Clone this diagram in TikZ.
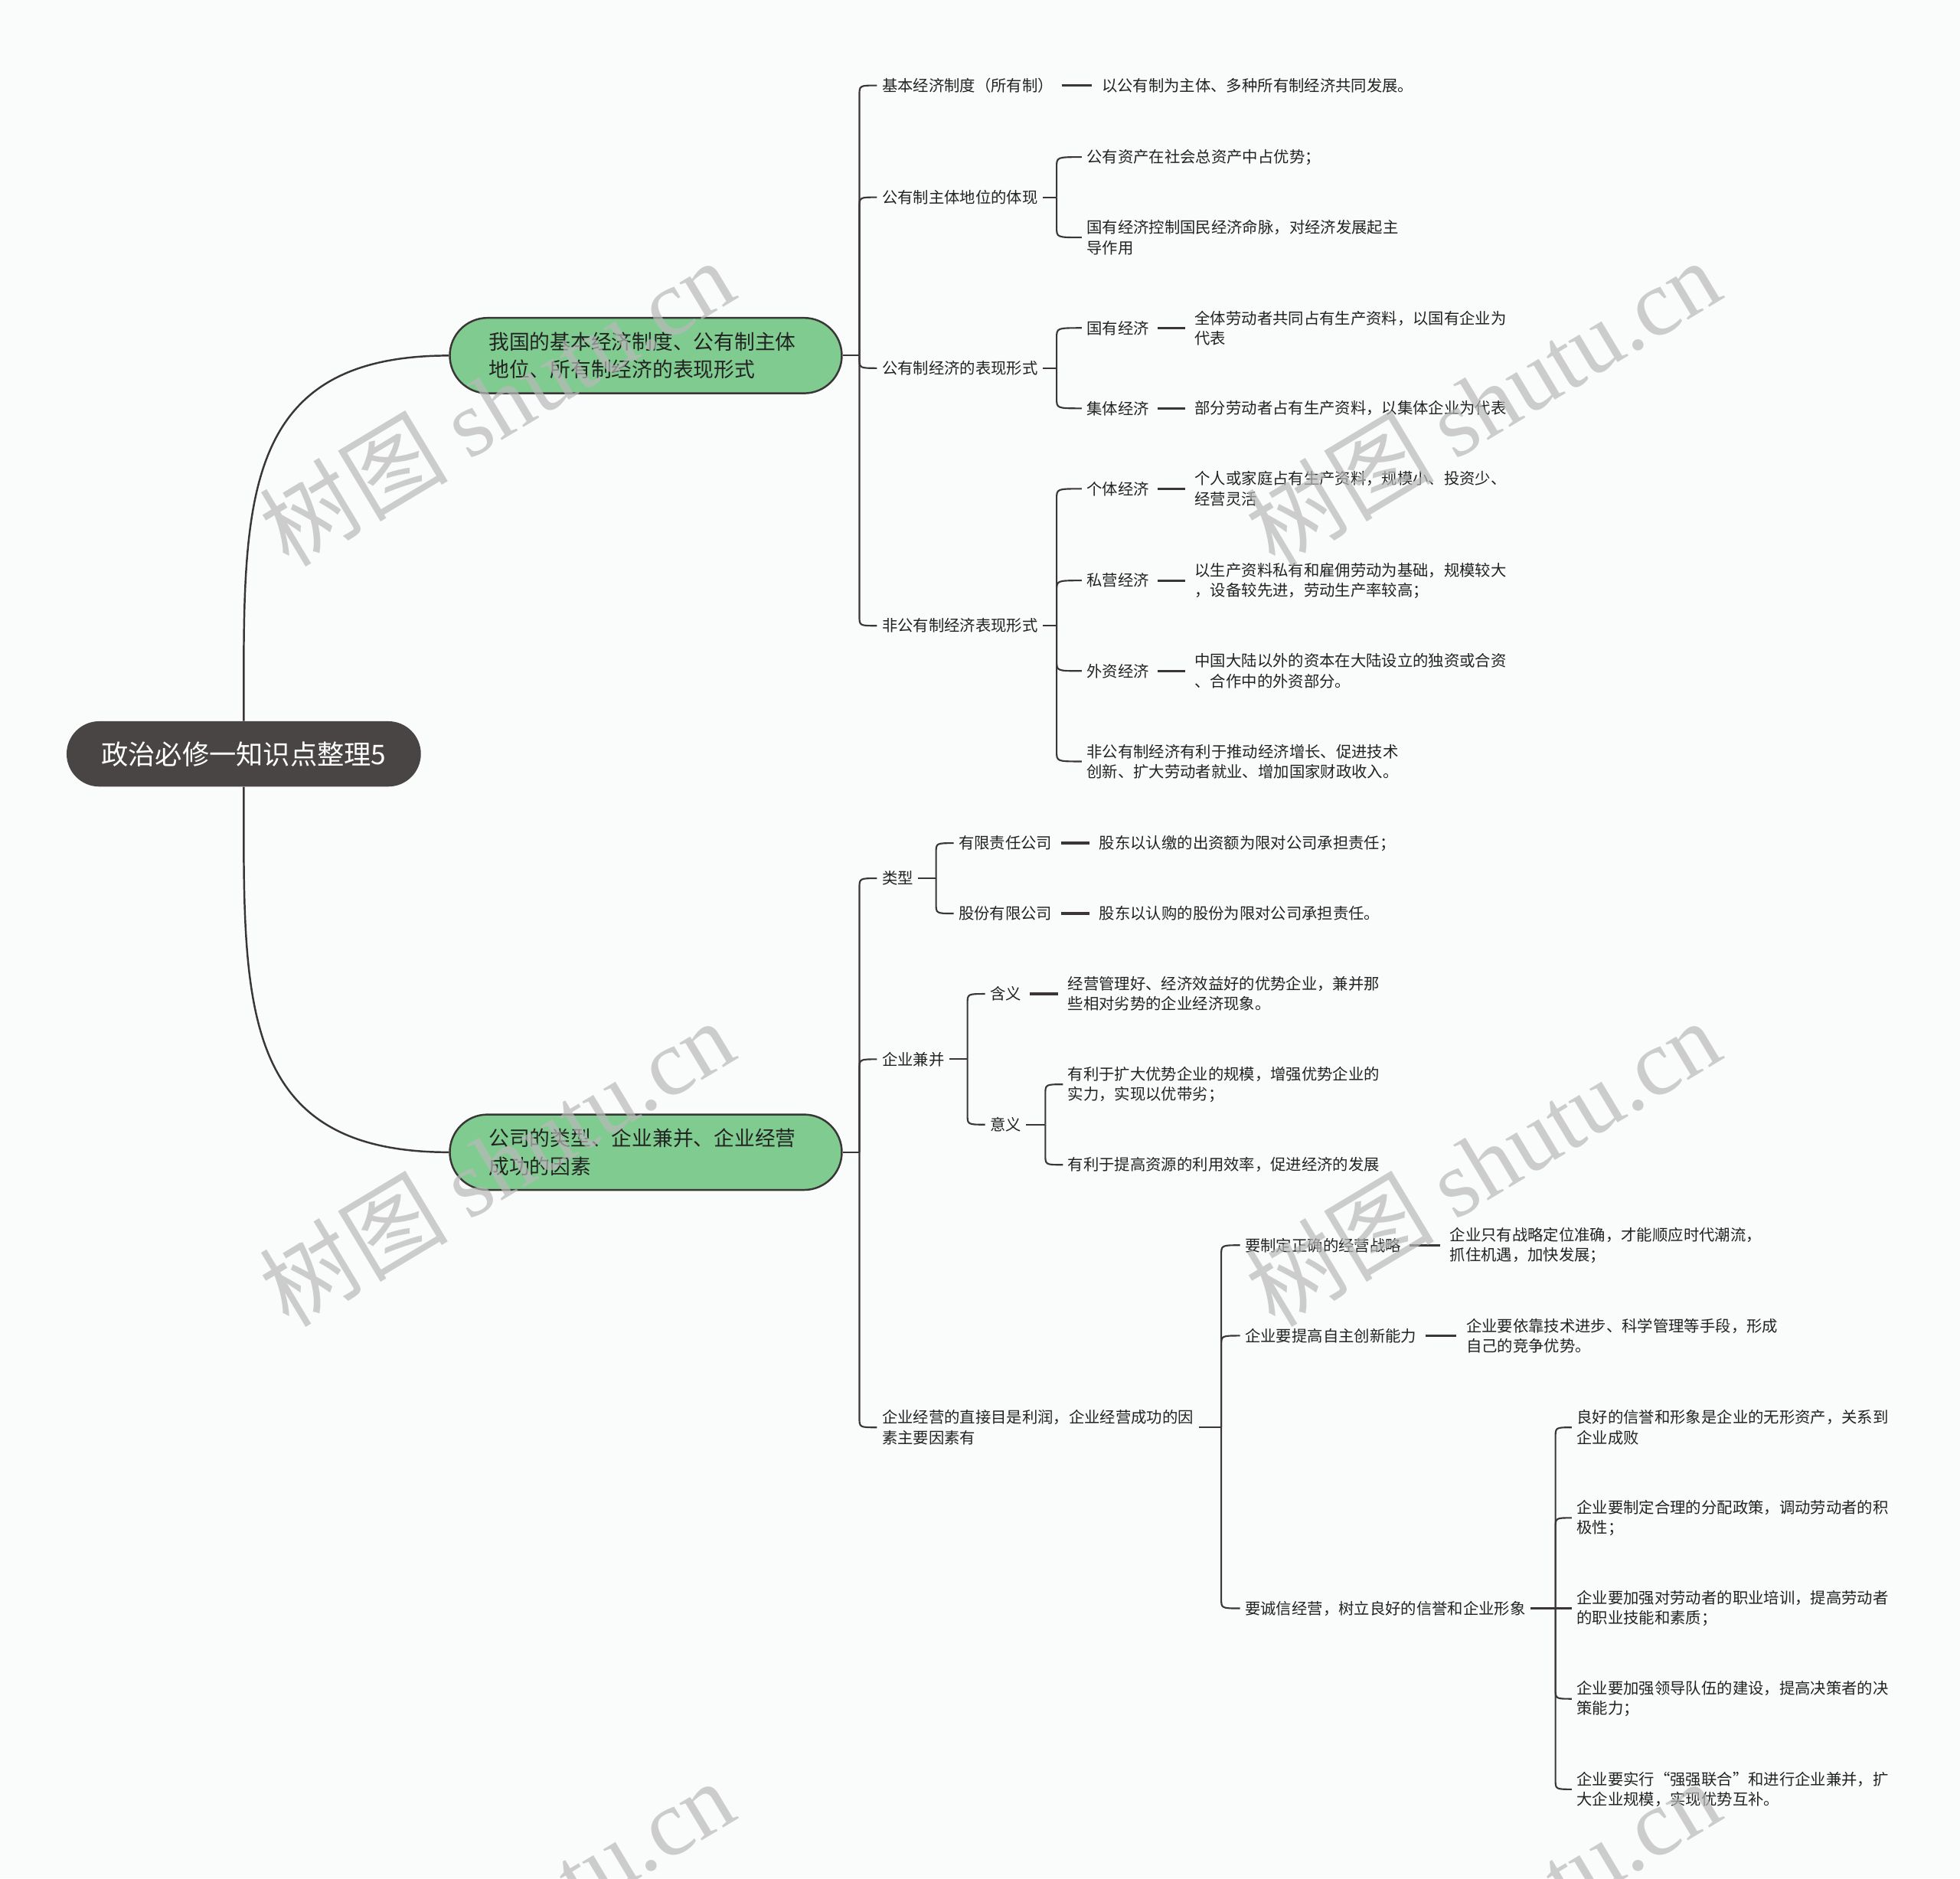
\documentclass[tikz,border=0pt]{standalone}
\usepackage{fontspec}
\setmainfont{Noto Sans CJK SC}
\newfontfamily\wmfont{Liberation Serif}
\usetikzlibrary{calc}
\definecolor{bg}{RGB}{250,252,252}
\definecolor{ink}{RGB}{58,54,54}
\definecolor{tc}{RGB}{34,34,34}
\definecolor{leaf}{RGB}{128,204,144}
\definecolor{rootc}{RGB}{73,69,69}
\definecolor{wmc}{RGB}{185,185,185}

\begin{document}
\begin{tikzpicture}[x=1pt, y=-1pt,
  txt/.style={font=\fontsize{12.4}{16}\selectfont, align=left, inner sep=0pt, outer xsep=4pt, anchor=west, text=tc},
  topic/.style={draw=ink, line width=1.5pt, fill=leaf, rounded corners=30pt, text width=250pt, inner xsep=31pt, minimum height=60pt, font=\fontsize{16.3}{22}\selectfont, align=left, text=tc},
  br/.style={draw=ink, line width=1.3pt, to path={let \p1=(\tikztostart), \p2=(\tikztotarget), \n1={(\y2<\y1)*16-8} in -- (\x1,{\y2+\n1}) .. controls (\x1,\y2) .. (\p2)}},
  lead/.style={draw=ink, line width=2pt, shorten <=3pt, shorten >=4pt},
  wm/.style={rotate=31, text=wmc, opacity=0.7, font=\fontsize{75}{75}\selectfont}]
\useasboundingbox[fill=bg] (0,0) rectangle (1560,1495);

\node[fill=rootc, rounded corners=26pt, minimum width=282pt, minimum height=52pt, text=white, font=\fontsize{21.5}{24}\selectfont] (ttl) at (194,600) {政治必修一知识点整理5};
\node[topic] (m1) at (514,283) {我国的基本经济制度、公有制主体\\地位、所有制经济的表现形式};
\node[topic] (m2) at (514,917) {公司的类型、企业兼并、企业经营\\成功的因素};
\draw[ink, line width=1.5pt] (ttl.north) to[out=90, in=180, looseness=1.3] (m1.west);
\draw[ink, line width=1.5pt] (ttl.south) to[out=-90, in=180, looseness=1.3] (m2.west);

% first topic
\node[txt] (sys) at (698,68) {基本经济制度（所有制）};
\node[txt] (sysd) at (873,68) {以公有制为主体、多种所有制经济共同发展。};
\node[txt] (dom) at (698,157) {公有制主体地位的体现};
\node[txt] (dom1) at (861,125) {公有资产在社会总资产中占优势；};
\node[txt] (dom2) at (861,189) {国有经济控制国民经济命脉，对经济发展起主\\导作用};
\node[txt] (pubf) at (698,293) {公有制经济的表现形式};
\node[txt] (state) at (861,261) {国有经济};
\node[txt] (stated) at (947,261) {全体劳动者共同占有生产资料，以国有企业为\\代表};
\node[txt] (coll) at (861,325) {集体经济};
\node[txt] (colld) at (947,325) {部分劳动者占有生产资料，以集体企业为代表};
\node[txt] (npub) at (698,498) {非公有制经济表现形式};
\node[txt] (indiv) at (861,389) {个体经济};
\node[txt] (indivd) at (947,389) {个人或家庭占有生产资料，规模小、投资少、\\经营灵活};
\node[txt] (priv) at (861,462) {私营经济};
\node[txt] (privd) at (947,462) {以生产资料私有和雇佣劳动为基础，规模较大\\，设备较先进，劳动生产率较高；};
\node[txt] (forn) at (861,534) {外资经济};
\node[txt] (fornd) at (947,534) {中国大陆以外的资本在大陆设立的独资或合资\\、合作中的外资部分。};
\node[txt] (npubr) at (861,606) {非公有制经济有利于推动经济增长、促进技术\\创新、扩大劳动者就业、增加国家财政收入。};

\coordinate (jm1) at (684,283);
\coordinate (jdom) at (841,157);
\coordinate (jpubf) at (841,293);
\coordinate (jnpub) at (841,498);
\draw[br] (m1) -- (jm1);
\path[br] (jm1) edge (sys.west) edge (dom.west) edge (pubf.west) edge (npub.west);
\draw[br] (dom) -- (jdom);
\path[br] (jdom) edge (dom1.west) edge (dom2.west);
\draw[br] (pubf) -- (jpubf);
\path[br] (jpubf) edge (state.west) edge (coll.west);
\draw[br] (npub) -- (jnpub);
\path[br] (jnpub) edge (indiv.west) edge (priv.west) edge (forn.west) edge (npubr.west);
\path[lead] (sys) edge (sysd) (state) edge (stated) (coll) edge (colld)
  (indiv) edge (indivd) (priv) edge (privd) (forn) edge (fornd);

% second topic
\node[txt] (kind) at (698,699) {类型};
\node[txt] (ltd) at (759,671) {有限责任公司};
\node[txt] (ltdd) at (871,671) {股东以认缴的出资额为限对公司承担责任；};
\node[txt] (jsc) at (759,727) {股份有限公司};
\node[txt] (jscd) at (871,727) {股东以认购的股份为限对公司承担责任。};
\node[txt] (merge) at (698,843) {企业兼并};
\node[txt] (mean) at (784,791) {含义};
\node[txt] (meand) at (846,791) {经营管理好、经济效益好的优势企业，兼并那\\些相对劣势的企业经济现象。};
\node[txt] (sig) at (784,895) {意义};
\node[txt] (sig1) at (846,863) {有利于扩大优势企业的规模，增强优势企业的\\实力，实现以优带劣；};
\node[txt] (sig2) at (846,927) {有利于提高资源的利用效率，促进经济的发展};
\node[txt] (goal) at (698,1136) {企业经营的直接目是利润，企业经营成功的因\\素主要因素有};
\node[txt] (strat) at (987,991) {要制定正确的经营战略};
\node[txt] (stratd) at (1150,991) {企业只有战略定位准确，才能顺应时代潮流，\\抓住机遇，加快发展；};
\node[txt] (innov) at (987,1063) {企业要提高自主创新能力};
\node[txt] (innovd) at (1163,1063) {企业要依靠技术进步、科学管理等手段，形成\\自己的竞争优势。};
\node[txt] (cred) at (987,1280) {要诚信经营，树立良好的信誉和企业形象};
\node[txt] (cred1) at (1251,1136) {良好的信誉和形象是企业的无形资产，关系到\\企业成败};
\node[txt] (cred2) at (1251,1208) {企业要制定合理的分配政策，调动劳动者的积\\极性；};
\node[txt] (cred3) at (1251,1280) {企业要加强对劳动者的职业培训，提高劳动者\\的职业技能和素质；};
\node[txt] (cred4) at (1251,1352) {企业要加强领导队伍的建设，提高决策者的决\\策能力；};
\node[txt] (cred5) at (1251,1424) {企业要实行“强强联合”和进行企业兼并，扩\\大企业规模，实现优势互补。};

\coordinate (jm2) at (684,917);
\coordinate (jkind) at (745,699);
\coordinate (jmerge) at (770,843);
\coordinate (jsig) at (832,895);
\coordinate (jgoal) at (972,1136);
\coordinate (jcred) at (1238,1280);
\draw[br] (m2) -- (jm2);
\path[br] (jm2) edge (kind.west) edge (merge.west) edge (goal.west);
\draw[br] (kind) -- (jkind);
\path[br] (jkind) edge (ltd.west) edge (jsc.west);
\draw[br] (merge) -- (jmerge);
\path[br] (jmerge) edge (mean.west) edge (sig.west);
\draw[br] (sig) -- (jsig);
\path[br] (jsig) edge (sig1.west) edge (sig2.west);
\draw[br] (goal) -- (jgoal);
\path[br] (jgoal) edge (strat.west) edge (innov.west) edge (cred.west);
\draw[br] (cred) -- (cred3);
\path[br] (jcred) edge (cred1.west) edge (cred2.west) edge (cred4.west) edge (cred5.west);
\path[lead] (ltd) edge (ltdd) (jsc) edge (jscd) (mean) edge (meand)
  (strat) edge (stratd) (innov) edge (innovd);

% watermark
\foreach \wx in {395,1180}
  \foreach \wy in {320,925,1530}
    \node[wm] (wm-\wx-\wy) at (\wx,\wy) {树图 {\wmfont shutu.cn}};
\end{tikzpicture}
\end{document}
